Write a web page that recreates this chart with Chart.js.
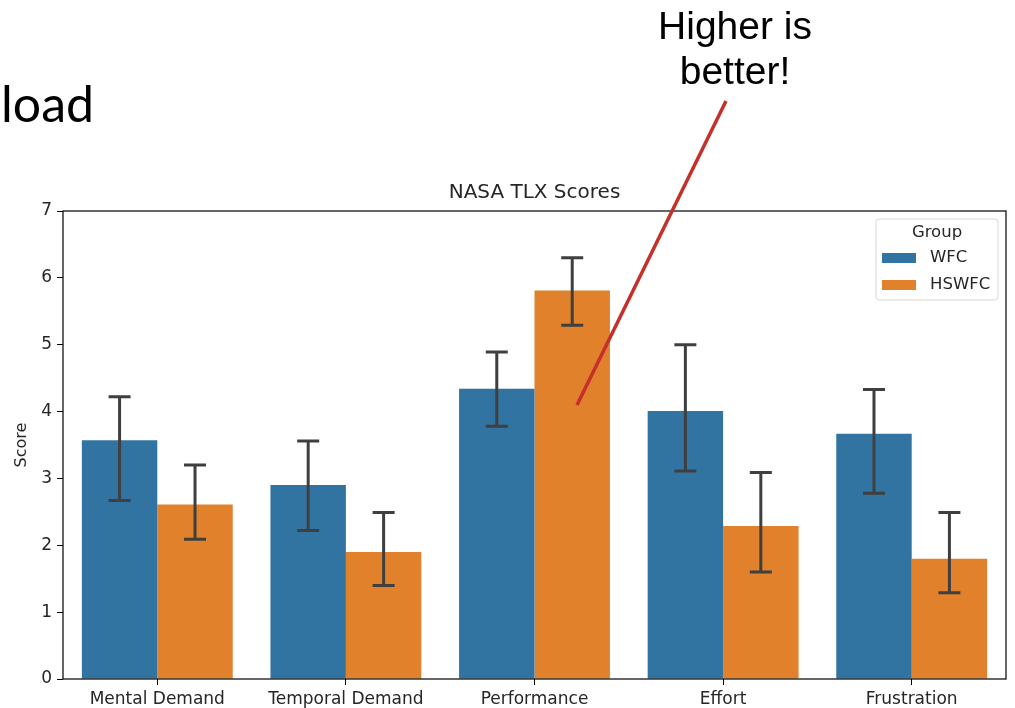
<!DOCTYPE html>
<html>
<head>
<meta charset="utf-8">
<script src="https://cdn.jsdelivr.net/npm/chart.js@4.4.1/dist/chart.umd.min.js"></script>
<style>
  html, body { margin: 0; padding: 0; background: #fff; }
  #wrap { position: relative; width: 1015px; height: 708px; overflow: hidden; }
  #chart { position: absolute; left: 0; top: 0; }
  .slideText { position: absolute; color: #000; white-space: nowrap; }
  #load { left: 1px; top: 73px; font-family: Lato, sans-serif; font-size: 50px; line-height: 60px; }
  #note { left: 635px; top: 3px; width: 200px; text-align: center; font-family: "Liberation Sans", Arial, sans-serif; font-size: 39px; line-height: 45px; }
  #arrow { position: absolute; left: 0; top: 0; pointer-events: none; }
</style>
</head>
<body>
<div id="wrap">
  <canvas id="chart" width="1015" height="708"></canvas>
  <div class="slideText" id="load">load</div>
  <div class="slideText" id="note">Higher is<br>better!</div>
  <svg id="arrow" width="1015" height="708">
    <line x1="726" y1="101" x2="577" y2="405" stroke="#c4302b" stroke-width="3.5" />
  </svg>
</div>
<script>
// Data
const categories = ['Mental Demand', 'Temporal Demand', 'Performance', 'Effort', 'Frustration'];
const groups = ['WFC', 'HSWFC'];
const wfcScores = [3.57, 2.90, 4.34, 4.01, 3.67];
const wfcLow = [2.67, 2.22, 3.78, 3.11, 2.78];
const wfcHigh = [4.22, 3.56, 4.89, 5.00, 4.33];
const hswfcScores = [2.61, 1.90, 5.81, 2.29, 1.80];
const hswfcLow = [2.09, 1.40, 5.29, 1.60, 1.29];
const hswfcHigh = [3.20, 2.49, 6.30, 3.09, 2.49];
const yTicks = [0, 1, 2, 3, 4, 5, 6, 7];

const colors = {
    blue: '#3274a1',
    orange: '#e1812c',
    err: '#3f3f3f',
    text: '#262626'
};
const font = 'DejaVu Sans';

// error bars (CI whiskers) drawn on top of bars
const errorBars = {
    id: 'errorBars',
    afterDatasetsDraw(chart) {
        const ctx = chart.ctx;
        const y = chart.scales.y;
        chart.data.datasets.forEach((ds, di) => {
            const meta = chart.getDatasetMeta(di);
            meta.data.forEach((bar, i) => {
                const top = y.getPixelForValue(ds.errHigh[i]);
                const bot = y.getPixelForValue(ds.errLow[i]);
                ctx.save();
                ctx.strokeStyle = colors.err;
                ctx.lineWidth = 3;
                ctx.beginPath();
                ctx.moveTo(bar.x, top);
                ctx.lineTo(bar.x, bot);
                ctx.moveTo(bar.x - 11, top);
                ctx.lineTo(bar.x + 11, top);
                ctx.moveTo(bar.x - 11, bot);
                ctx.lineTo(bar.x + 11, bot);
                ctx.stroke();
                ctx.restore();
            });
        });
    }
};

// matplotlib style frame + legend in the upper right
const frameAndLegend = {
    id: 'frameAndLegend',
    afterDraw(chart) {
        const ctx = chart.ctx;
        const a = chart.chartArea;
        ctx.save();
        ctx.strokeStyle = '#000';
        ctx.lineWidth = 1.2;
        ctx.strokeRect(a.left, a.top, a.right - a.left, a.bottom - a.top);

        // legend box
        const lx = a.right - 130, ly = a.top + 8, lw = 122, lh = 81;
        ctx.fillStyle = 'rgba(255,255,255,0.8)';
        ctx.strokeStyle = '#d6d6d6';
        ctx.lineWidth = 1;
        ctx.beginPath();
        ctx.roundRect(lx, ly, lw, lh, 3);
        ctx.fill();
        ctx.stroke();

        ctx.fillStyle = colors.text;
        ctx.font = '16.5px "' + font + '"';
        ctx.textBaseline = 'middle';
        ctx.textAlign = 'center';
        ctx.fillText('Group', lx + lw / 2, ly + 14);
        ctx.textAlign = 'left';
        const swatch = [colors.blue, colors.orange];
        groups.forEach((g, i) => {
            const cy = ly + 39 + i * 27;
            ctx.fillStyle = swatch[i];
            ctx.fillRect(lx + 6, cy - 5, 34, 10);
            ctx.fillStyle = colors.text;
            ctx.fillText(g, lx + 54, cy);
        });
        ctx.restore();
    }
};

const ctx = document.getElementById('chart').getContext('2d');
new Chart(ctx, {
    type: 'bar',
    data: {
        labels: categories,
        datasets: [
            {
                label: groups[0],
                data: wfcScores,
                errLow: wfcLow,
                errHigh: wfcHigh,
                backgroundColor: colors.blue
            },
            {
                label: groups[1],
                data: hswfcScores,
                errLow: hswfcLow,
                errHigh: hswfcHigh,
                backgroundColor: colors.orange
            }
        ]
    },
    options: {
        responsive: false,
        animation: false,
        devicePixelRatio: 1,
        categoryPercentage: 0.8,
        barPercentage: 1.0,
        layout: {
            padding: { left: 0, right: 9, top: 0, bottom: 0 }
        },
        scales: {
            x: {
                grid: { display: true, offset: false, drawOnChartArea: false, color: '#000', tickLength: 6 },
                border: { display: false },
                ticks: { color: colors.text, padding: 4, font: { family: font, size: 17 } },
                afterFit: (scale) => { scale.height = 29; }
            },
            y: {
                min: 0,
                max: 7,
                afterBuildTicks: (scale) => { scale.ticks = yTicks.map(v => ({ value: v })); },
                grid: { display: true, drawOnChartArea: false, color: '#000', tickLength: 6 },
                border: { display: false },
                ticks: { color: colors.text, padding: 5, font: { family: font, size: 17 } },
                title: { display: true, text: 'Score', color: colors.text, padding: { top: 12, bottom: 0 }, font: { family: font, size: 16 } },
                afterFit: (scale) => { scale.width = 63; }
            }
        },
        plugins: {
            legend: { display: false },
            tooltip: { enabled: false },
            title: {
                display: true,
                fullSize: false,
                text: 'NASA TLX Scores',
                color: colors.text,
                font: { family: font, size: 20, weight: 'normal' },
                padding: { top: 181, bottom: 6 }
            }
        }
    },
    plugins: [errorBars, frameAndLegend]
});
</script>
</body>
</html>
